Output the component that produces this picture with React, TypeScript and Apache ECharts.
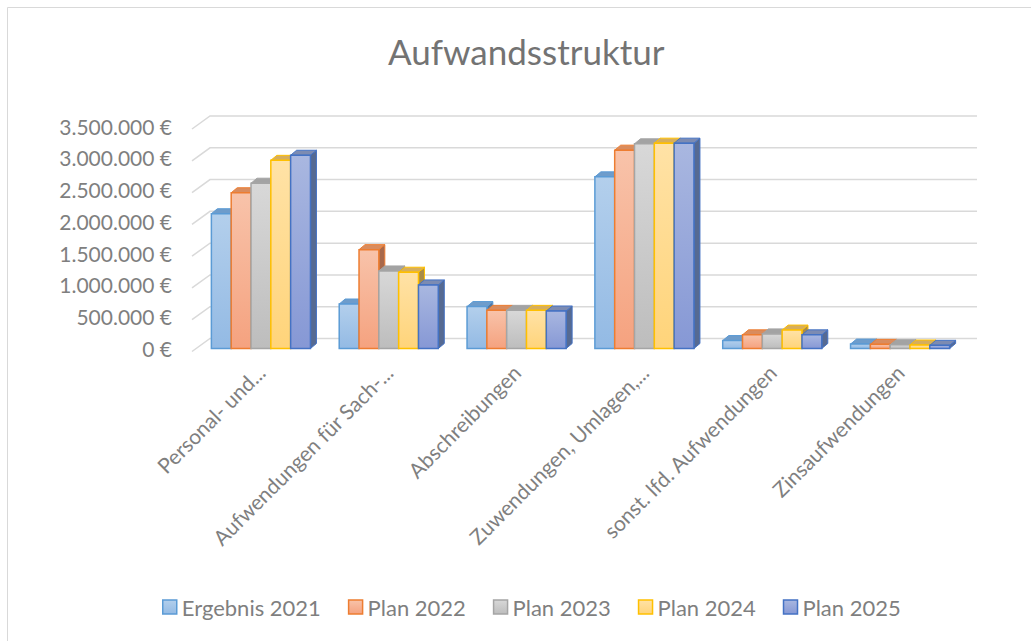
import React, { useEffect, useRef } from "react";
import * as echarts from "echarts";

const categories = [
  "Personal- und...",
  "Aufwendungen für Sach-...",
  "Abschreibungen",
  "Zuwendungen, Umlagen,...",
  "sonst. lfd. Aufwendungen",
  "Zinsaufwendungen",
];
const seriesNames = ["Ergebnis 2021", "Plan 2022", "Plan 2023", "Plan 2024", "Plan 2025"];
const ergebnis2021 = [2120000, 700000, 660000, 2700000, 125000, 70000];
const plan2022 = [2450000, 1555000, 600000, 3120000, 215000, 65000];
const plan2023 = [2600000, 1220000, 600000, 3220000, 230000, 60000];
const plan2024 = [2960000, 1200000, 600000, 3230000, 290000, 55000];
const plan2025 = [3040000, 1000000, 590000, 3230000, 215000, 50000];
const yTicks = [0, 500000, 1000000, 1500000, 2000000, 2500000, 3000000, 3500000];

const seriesValues = [ergebnis2021, plan2022, plan2023, plan2024, plan2025];

const palette = [
  { border: "#5B9BD5", light: "#B3CFEC", dark: "#93BAE4", top: "#6E9CCB", side: "#56789E" },
  { border: "#ED7D31", light: "#F8C3AA", dark: "#F5A27F", top: "#D98C5E", side: "#A8684A" },
  { border: "#A5A5A5", light: "#D8D8D8", dark: "#BDBDBD", top: "#A3A3A3", side: "#7E7E7E" },
  { border: "#FFC000", light: "#FFE2A6", dark: "#FFD47A", top: "#D6AE5C", side: "#A88B48" },
  { border: "#4472C4", light: "#A9B7E0", dark: "#8698D5", top: "#7C8BB2", side: "#566A92" },
];

const TEXT = "#7f7f7f";
const FONT = "Lato";

function fmt(v: number): string {
  const s = Math.round(v).toString().replace(/\B(?=(\d{3})+(?!\d))/g, ".");
  return s + " €";
}

export default function App() {
  const ref = useRef<HTMLDivElement>(null);
  useEffect(() => {
    if (!ref.current) return;
    const chart = echarts.init(ref.current, undefined, { renderer: "svg" });
    const DX = 6;
    const DY = -5;

    const barSeries = seriesValues.map((vals, s) => {
      const c = palette[s];
      const grad = new echarts.graphic.LinearGradient(0, 0, 0, 1, [
        { offset: 0, color: c.light },
        { offset: 1, color: c.dark },
      ]);
      return {
        type: "custom",
        name: seriesNames[s],
        z: 3 + s,
        itemStyle: { color: c.dark, borderColor: c.border },
        data: vals.map((v, i) => [i, v]),
        renderItem: (params: any, api: any) => {
          const cat = api.value(0);
          const val = api.value(1);
          const top = api.coord([cat, val]);
          const base = api.coord([cat, 0]);
          const band = api.size([1, 0])[0];
          const bw = band * 0.155;
          const x0 = top[0] - 2.5 * bw + s * bw;
          const x1 = x0 + bw;
          const yT = top[1];
          const yB = base[1];
          return {
            type: "group",
            children: [
              {
                type: "polygon",
                shape: { points: [[x1, yB], [x1 + DX, yB + DY], [x1 + DX, yT + DY], [x1, yT]] },
                style: { fill: c.side, stroke: c.border, lineWidth: 1 },
              },
              {
                type: "polygon",
                shape: { points: [[x0, yT], [x0 + DX, yT + DY], [x1 + DX, yT + DY], [x1, yT]] },
                style: { fill: c.top, stroke: c.border, lineWidth: 1 },
              },
              {
                type: "rect",
                shape: { x: x0, y: yT, width: bw, height: yB - yT },
                style: { fill: grad, stroke: c.border, lineWidth: 1.5 },
              },
            ],
          };
        },
      };
    });

    const gridSeries = {
      type: "custom",
      name: "grid",
      z: 1,
      silent: true,
      data: yTicks.map((v) => [0, v]),
      renderItem: (params: any, api: any) => {
        const cs = params.coordSys;
        const y = api.coord([0, api.value(1)])[1];
        const xf = cs.x - 5;
        const xb = cs.x + 13;
        const xr = cs.x + cs.width + 13;
        return {
          type: "polyline",
          shape: { points: [[xf, y + 3], [xb, y - 10], [xr, y - 10]] },
          style: { stroke: "#d9d9d9", lineWidth: 1.5, fill: "none" },
        };
      },
    };

    chart.setOption({
      animation: false,
      textStyle: { fontFamily: FONT },
      title: {
        text: "Aufwandsstruktur",
        left: 383,
        top: 28,
        textStyle: { fontFamily: FONT, fontSize: 35, fontWeight: "normal", color: "#737373" },
      },
      graphic: [
        {
          type: "rect",
          shape: { x: 7.5, y: 7.5, width: 1200, height: 800 },
          style: { fill: "none", stroke: "#d9d9d9", lineWidth: 1 },
          silent: true,
          z: -1,
        },
      ],
      legend: {
        data: seriesNames.map((n, i) => ({
          name: n,
          icon: "rect",
          itemStyle: {
            color: new echarts.graphic.LinearGradient(0, 0, 0, 1, [
              { offset: 0, color: palette[i].light },
              { offset: 1, color: palette[i].dark },
            ]),
            borderColor: palette[i].border,
            borderWidth: 1.5,
          },
        })),
        left: 157,
        top: 591,
        itemWidth: 14,
        itemHeight: 14,
        itemGap: 27,
        textStyle: { fontFamily: FONT, fontSize: 22, color: TEXT },
      },
      grid: { left: 197, top: 126, width: 767, height: 222.5 },
      xAxis: {
        type: "category",
        data: categories,
        axisLine: { show: false },
        axisTick: { show: false },
        splitLine: { show: false },
        axisLabel: {
          interval: 0,
          rotate: 45,
          margin: 20,
          fontFamily: FONT,
          fontSize: 21,
          color: TEXT,
        },
      },
      yAxis: {
        type: "value",
        min: 0,
        max: 3500000,
        interval: 500000,
        axisLine: { show: false },
        axisTick: { show: false },
        splitLine: { show: false },
        axisLabel: {
          formatter: (v: number) => fmt(v),
          margin: 25,
          fontFamily: FONT,
          fontSize: 21,
          color: TEXT,
        },
      },
      series: [gridSeries, ...barSeries],
    });
    return () => chart.dispose();
  }, []);
  return (
    <div
      ref={ref}
      style={{ position: "fixed", left: 0, top: 0, width: 1031, height: 641, background: "#fff" }}
    />
  );
}
